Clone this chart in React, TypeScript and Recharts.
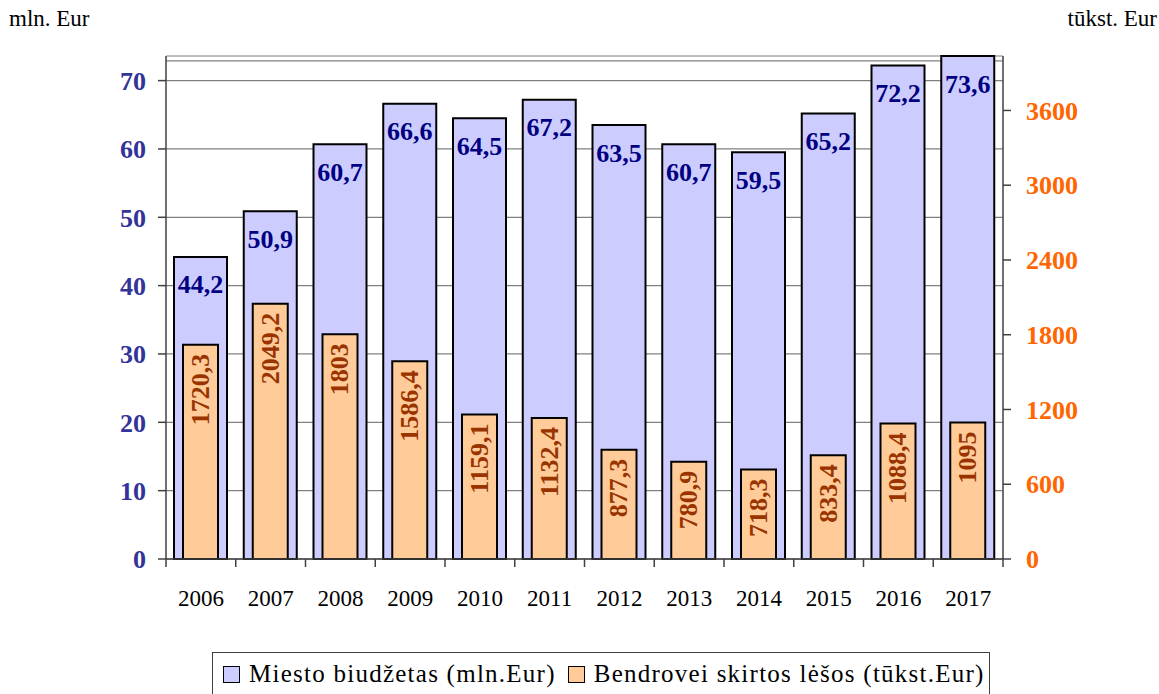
import React from 'react';
import { ComposedChart, Bar, XAxis, YAxis, CartesianGrid, LabelList, Legend, ReferenceLine } from 'recharts';

const years = ['2006', '2007', '2008', '2009', '2010', '2011', '2012', '2013', '2014', '2015', '2016', '2017'];
const budget = [44.2, 50.9, 60.7, 66.6, 64.5, 67.2, 63.5, 60.7, 59.5, 65.2, 72.2, 73.6];
const funds = [1720.3, 2049.2, 1803, 1586.4, 1159.1, 1132.4, 877.3, 780.9, 718.3, 833.4, 1088.4, 1095];
const leftTicks = [0, 10, 20, 30, 40, 50, 60, 70];
const rightTicks = [0, 600, 1200, 1800, 2400, 3000, 3600];
const leftMax = 73.6;
const rightMax = 4037;
const frameTop = 72.9;
const seriesNames = ['Miesto biudžetas (mln.Eur)', 'Bendrovei skirtos lėšos (tūkst.Eur)'];
const unitLeft = 'mln. Eur';
const unitRight = 'tūkst. Eur';

const data = years.map((y, i) => ({ year: y, budget: budget[i], funds: funds[i] }));

const FONT = '"Liberation Serif", "Times New Roman", serif';
const fmt = (v: any) => String(v).replace('.', ',');

const XTick = (props: any) => {
  const { x, y, payload, width, visibleTicksCount, index } = props;
  const bw = width / visibleTicksCount;
  return (
    <g>
      <line x1={x - bw / 2} x2={x - bw / 2} y1={y} y2={y + 8} stroke="#404040" strokeWidth={1.5} />
      {index === visibleTicksCount - 1 && (
        <line x1={x + bw / 2} x2={x + bw / 2} y1={y} y2={y + 8} stroke="#404040" strokeWidth={1.5} />
      )}
      <text x={x} y={y + 47} textAnchor="middle" fill="#000" fontSize={23} fontFamily={FONT}>
        {payload.value}
      </text>
    </g>
  );
};

const FundsLabel = (props: any) => {
  const { x, y, width, value } = props;
  const cx = x + width / 2;
  const ty = y + 9;
  return (
    <text
      x={cx}
      y={ty}
      transform={`rotate(-90 ${cx} ${ty})`}
      textAnchor="end"
      dominantBaseline="central"
      fill="#993300"
      fontSize={26}
      fontWeight="bold"
      fontFamily={FONT}
    >
      {fmt(value)}
    </text>
  );
};

const BudgetLabel = (props: any) => {
  const { x, y, width, value } = props;
  return (
    <text
      x={x + width / 2}
      y={y + 28}
      textAnchor="middle"
      dominantBaseline="central"
      fill="#000080"
      fontSize={26}
      fontWeight="bold"
      fontFamily={FONT}
    >
      {fmt(value)}
    </text>
  );
};

const renderLegend = (props: any) => {
  const payload = [...(props.payload || [])].sort(
    (a: any, b: any) => seriesNames.indexOf(a.value) - seriesNames.indexOf(b.value)
  );
  return (
    <div
      style={{
        border: '1px solid #404040',
        height: 44,
        boxSizing: 'border-box',
        display: 'flex',
        alignItems: 'center',
        paddingLeft: 10,
        fontSize: 25,
        letterSpacing: 1.25,
        fontFamily: FONT,
        color: '#000',
        whiteSpace: 'nowrap',
      }}
    >
      {payload.map((p: any, i: number) => (
        <span key={i} style={{ display: 'inline-flex', alignItems: 'center', marginRight: 12 }}>
          <span
            style={{
              display: 'inline-block',
              width: 15,
              height: 15,
              background: p.color,
              border: '1.5px solid #000',
              marginRight: 9,
            }}
          />
          {p.value}
        </span>
      ))}
    </div>
  );
};

export default function App() {
  return (
    <div style={{ position: 'absolute', left: 0, top: 0, width: 1159, height: 694, fontFamily: FONT, background: '#fff' }}>
      <div style={{ position: 'absolute', left: 9, top: 6, fontSize: 23, color: '#000' }}>{unitLeft}</div>
      <div style={{ position: 'absolute', right: 2, top: 6, fontSize: 23, color: '#000' }}>{unitRight}</div>
      <ComposedChart
        width={1159}
        height={694}
        data={data}
        margin={{ top: 56, right: 66, left: 86, bottom: 0 }}
        barGap={0}
      >
        <CartesianGrid
          yAxisId="left"
          xAxisId="a"
          vertical={false}
          stroke="#808080"
          strokeWidth={1.2}
        />
        <XAxis
          xAxisId="a"
          dataKey="year"
          height={91}
          tickLine={false}
          tickSize={0}
          tickMargin={0}
          axisLine={{ stroke: '#404040', strokeWidth: 1.5 }}
          tick={<XTick />}
          interval={0}
        />
        <XAxis xAxisId="b" dataKey="year" hide />
        <YAxis
          yAxisId="left"
          orientation="left"
          width={80}
          domain={[0, leftMax]}
          ticks={leftTicks}
          interval={0}
          tickSize={8}
          tickMargin={12}
          axisLine={{ stroke: '#404040', strokeWidth: 1.5 }}
          tickLine={{ stroke: '#404040', strokeWidth: 1.5 }}
          tick={{ fill: '#333399', fontSize: 26, fontWeight: 'bold', fontFamily: FONT }}
        />
        <YAxis
          yAxisId="right"
          orientation="right"
          width={90}
          domain={[0, rightMax]}
          ticks={rightTicks}
          interval={0}
          tickSize={8}
          tickMargin={15}
          axisLine={{ stroke: '#404040', strokeWidth: 1.5 }}
          tickLine={{ stroke: '#404040', strokeWidth: 1.5 }}
          tick={{ fill: '#FF6600', fontSize: 26, fontWeight: 'bold', fontFamily: FONT }}
        />
        <ReferenceLine
          yAxisId="left"
          xAxisId="a"
          y={frameTop}
          stroke="#808080"
          strokeWidth={1.2}
          zIndex={-50}
        />
        <Legend
          verticalAlign="bottom"
          content={renderLegend}
          wrapperStyle={{ left: 212, width: 778, bottom: -2 }}
        />
        <Bar
          xAxisId="a"
          yAxisId="left"
          dataKey="budget"
          name={seriesNames[0]}
          fill="#CCCCFF"
          stroke="#000"
          strokeWidth={2}
          barSize={53}
          isAnimationActive={false}
        >
          <LabelList dataKey="budget" content={<BudgetLabel />} />
        </Bar>
        <Bar
          xAxisId="b"
          yAxisId="right"
          dataKey="funds"
          name={seriesNames[1]}
          fill="#FFCC99"
          stroke="#000"
          strokeWidth={2}
          barSize={35}
          isAnimationActive={false}
        >
          <LabelList dataKey="funds" content={<FundsLabel />} />
        </Bar>
      </ComposedChart>
    </div>
  );
}
